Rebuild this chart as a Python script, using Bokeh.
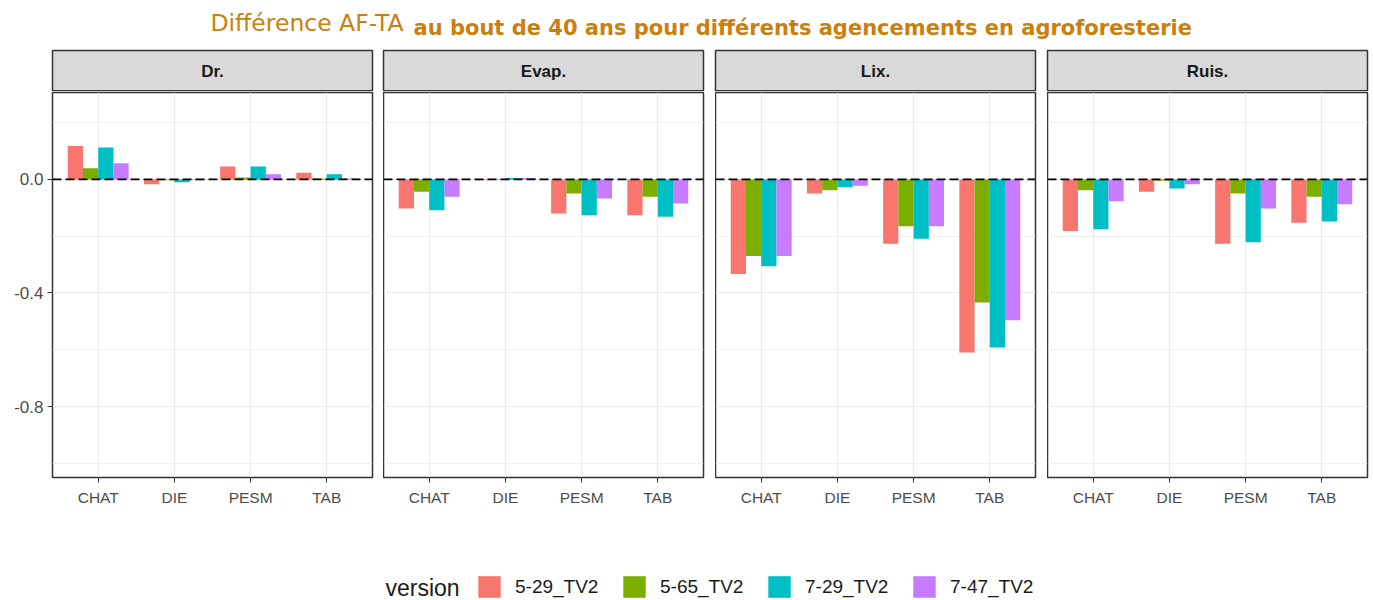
from bokeh.plotting import figure
from bokeh.models import (ColumnDataSource, FactorRange, Range1d, FixedTicker, Span,
                          Legend, LegendItem, Label)
from bokeh.transform import dodge
from bokeh.layouts import column, row
from bokeh.embed import file_html
from bokeh.resources import INLINE
from bokeh.core.properties import value

# ---------------- data ----------------
title_part1 = "Différence AF-TA"
title_part2 = "au bout de 40 ans pour différents agencements en agroforesterie"
panels = ["Dr.", "Evap.", "Lix.", "Ruis."]
categories = ["CHAT", "DIE", "PESM", "TAB"]
versions = ["5-29_TV2", "5-65_TV2", "7-29_TV2", "7-47_TV2"]
colors = ["#F8766D", "#7CAE00", "#00BFC4", "#C77CFF"]
legend_title = "version"
y_ticks = [-0.8, -0.4, 0.0]
y_minor = [-1.0, -0.6, -0.2, 0.2]

dr_5_29 = [0.118, -0.017, 0.045, 0.023]
dr_5_65 = [0.039, -0.003, 0.007, 0.003]
dr_7_29 = [0.112, -0.010, 0.045, 0.018]
dr_7_47 = [0.057, -0.003, 0.018, 0.003]

evap_5_29 = [-0.103, -0.003, -0.120, -0.126]
evap_5_65 = [-0.044, 0.001, -0.050, -0.061]
evap_7_29 = [-0.109, 0.005, -0.126, -0.132]
evap_7_47 = [-0.061, 0.005, -0.067, -0.085]

lix_5_29 = [-0.333, -0.050, -0.227, -0.610]
lix_5_65 = [-0.270, -0.038, -0.165, -0.434]
lix_7_29 = [-0.306, -0.028, -0.209, -0.592]
lix_7_47 = [-0.270, -0.022, -0.165, -0.496]

ruis_5_29 = [-0.182, -0.044, -0.227, -0.153]
ruis_5_65 = [-0.038, -0.005, -0.050, -0.061]
ruis_7_29 = [-0.176, -0.032, -0.221, -0.148]
ruis_7_47 = [-0.077, -0.017, -0.103, -0.088]

panel_values = [
    [dr_5_29, dr_5_65, dr_7_29, dr_7_47],
    [evap_5_29, evap_5_65, evap_7_29, evap_7_47],
    [lix_5_29, lix_5_65, lix_7_29, lix_7_47],
    [ruis_5_29, ruis_5_65, ruis_7_29, ruis_7_47],
]

# ---------------- layout constants ----------------
Y_MIN, Y_MAX = -1.05, 0.306
FRAME_W = 320
FRAME_H = 386
LEFT_BORDERS = [52, 0, 0, 0]
RIGHT_BORDERS = [11, 12, 12, 2]
TOP_H = 91
HEADER_H = 41
PANEL_BOTTOM = 30
LEG_H = 92
TITLE_COLOR = "#C98010"
BORDER_COLOR = "#333333"
GRID_COLOR = "#EBEBEB"
FONT = "Liberation Sans"
BAR_W = 0.2

fig_widths = [LEFT_BORDERS[i] + FRAME_W + RIGHT_BORDERS[i] for i in range(4)]
TOTAL_W = sum(fig_widths)
frame_lefts = []
acc = 0
for i in range(4):
    frame_lefts.append(acc + LEFT_BORDERS[i])
    acc += fig_widths[i]

# ---------------- top figure: title + strip headers ----------------
top = figure(width=TOTAL_W, height=TOP_H, x_range=Range1d(0, TOTAL_W), y_range=Range1d(0, TOP_H),
             output_backend="svg", toolbar_location=None, min_border=0)
top.axis.visible = False
top.grid.visible = False
top.outline_line_color = None

hdr = ColumnDataSource(dict(
    left=frame_lefts,
    right=[l + FRAME_W for l in frame_lefts],
    xc=[l + FRAME_W / 2 for l in frame_lefts],
    name=panels,
))
top.quad(left="left", right="right", bottom=0.75, top=HEADER_H, source=hdr,
         fill_color="#D9D9D9", line_color=BORDER_COLOR, line_width=1.5)
top.text(x="xc", y=HEADER_H / 2, text="name", source=hdr, text_align="center",
         text_baseline="middle", text_font=value(FONT), text_font_style="bold",
         text_font_size="17px", text_color="#1A1A1A")

top.text(x=[210], y=[TOP_H - 22], text=[title_part1], text_align="left", text_baseline="middle",
         text_font=value("DejaVu Sans"), text_font_size="23.5px", text_color=TITLE_COLOR)
top.text(x=[413], y=[TOP_H - 27], text=[title_part2], text_align="left", text_baseline="middle",
         text_font=value("DejaVu Sans"), text_font_style="bold", text_font_size="21px",
         text_color=TITLE_COLOR)

# ---------------- panels ----------------
figs = []
for i, name in enumerate(panels):
    p = figure(width=fig_widths[i], height=1 + FRAME_H + PANEL_BOTTOM,
               x_range=FactorRange(*categories, range_padding=0.1, range_padding_units="absolute"),
               y_range=Range1d(Y_MIN, Y_MAX),
               output_backend="svg", toolbar_location=None,
               y_axis_location="left" if i == 0 else None,
               min_border_left=LEFT_BORDERS[i], min_border_right=RIGHT_BORDERS[i],
               min_border_top=1, min_border_bottom=PANEL_BOTTOM)
    data = dict(cat=categories)
    for j, v in enumerate(versions):
        data[v] = panel_values[i][j]
    src = ColumnDataSource(data)
    for j, v in enumerate(versions):
        p.vbar(x=dodge("cat", (j - 1.5) * BAR_W, range=p.x_range), top=v, bottom=0,
               width=BAR_W, source=src, fill_color=colors[j], line_color=None)
    p.add_layout(Span(location=0, dimension="width", line_color="black",
                      line_dash="9 4", line_width=1.7))

    p.outline_line_color = BORDER_COLOR
    p.outline_line_width = 1.5
    p.background_fill_color = "white"

    ticker = FixedTicker(ticks=y_ticks, minor_ticks=y_minor)
    p.ygrid.ticker = ticker
    p.ygrid.grid_line_color = GRID_COLOR
    p.ygrid.grid_line_width = 1.1
    p.ygrid.minor_grid_line_color = GRID_COLOR
    p.ygrid.minor_grid_line_width = 0.8
    p.xgrid.grid_line_color = GRID_COLOR
    p.xgrid.grid_line_width = 1.1

    p.xaxis.axis_line_color = None
    p.xaxis.major_tick_line_color = BORDER_COLOR
    p.xaxis.major_tick_out = 5
    p.xaxis.major_tick_in = 0
    p.xaxis.minor_tick_line_color = None
    p.xaxis.major_label_standoff = 6
    p.xaxis.major_label_text_font = FONT
    p.xaxis.major_label_text_font_size = "15.5px"
    p.xaxis.major_label_text_color = "#4D4D4D"

    if i == 0:
        p.yaxis.ticker = ticker
        p.yaxis.major_label_overrides = {t: f"{t:.1f}" for t in y_ticks}
        p.yaxis.axis_line_color = None
        p.yaxis.major_tick_line_color = BORDER_COLOR
        p.yaxis.major_tick_out = 5
        p.yaxis.major_tick_in = 0
        p.yaxis.minor_tick_line_color = None
        p.yaxis.major_label_standoff = 4
        p.yaxis.major_label_text_font = FONT
        p.yaxis.major_label_text_font_size = "17px"
        p.yaxis.major_label_text_color = "#4D4D4D"
    figs.append(p)

# ---------------- legend figure ----------------
leg = figure(width=TOTAL_W, height=LEG_H, x_range=FactorRange(*versions), y_range=Range1d(1, 2),
             output_backend="svg", toolbar_location=None, min_border=0)
leg.axis.visible = False
leg.grid.visible = False
leg.outline_line_color = None
items = []
for j, v in enumerate(versions):
    # zero-height bars (outside the visible y range): only their legend swatches show
    r = leg.vbar(x=[v], top=[0], bottom=0, width=0.1, fill_color=colors[j], line_color=None)
    items.append(LegendItem(label=v, renderers=[r]))
legend = Legend(items=items, orientation="horizontal", location=(475, 0),
                glyph_width=28, glyph_height=27, label_standoff=12, spacing=20,
                label_width=85, padding=0, margin=0, border_line_color=None,
                background_fill_alpha=0, label_text_font=FONT,
                label_text_font_size="19px", label_text_color="#1A1A1A")
leg.add_layout(legend, "center")
leg.add_layout(Label(x=385, y=13, x_units="screen", y_units="screen", text=legend_title,
                     text_font=FONT, text_font_size="23px", text_color="#1A1A1A",
                     text_baseline="middle"))

layout = column(top, row(*figs), leg)
open("out.html", "w").write(file_html(layout, INLINE))
